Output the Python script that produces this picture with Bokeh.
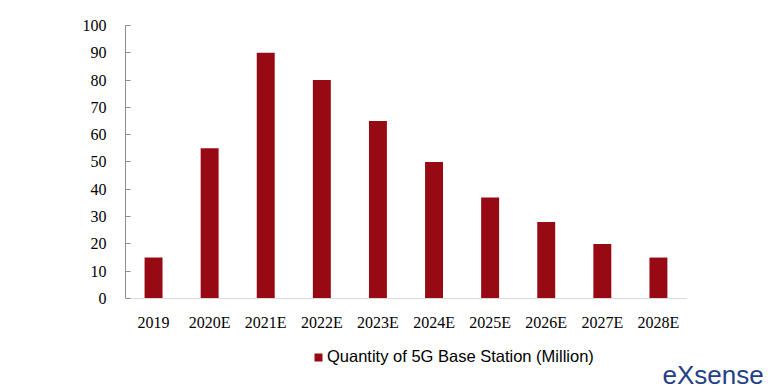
from bokeh.plotting import figure
from bokeh.models import Range1d, Legend, LegendItem, Label, SingleIntervalTicker, FixedTicker
from bokeh.embed import file_html
from bokeh.resources import INLINE

years = ["2019", "2020E", "2021E", "2022E", "2023E", "2024E", "2025E", "2026E", "2027E", "2028E"]
stations = [15, 55, 90, 80, 65, 50, 37, 28, 20, 15]
series_name = "Quantity of 5G Base Station (Million)"

xs = [i + 0.5 for i in range(len(years))]

p = figure(width=780, height=390, x_range=Range1d(0, 11.676),
           y_range=Range1d(-33.7, 100), output_backend="svg", toolbar_location=None,
           min_border_left=125, min_border_right=0, min_border_top=25, min_border_bottom=0)
p.outline_line_color = None
p.xgrid.grid_line_color = None
p.ygrid.grid_line_color = None

r = p.vbar(x=xs, top=stations, width=0.32, fill_color="#970A14", line_color=None)

serif = "Liberation Serif"
p.yaxis.ticker = SingleIntervalTicker(interval=10)
p.yaxis.bounds = (0, 100)
p.yaxis.axis_line_color = "#8c8c8c"
p.yaxis.major_tick_line_color = "#8c8c8c"
p.yaxis.major_tick_in = 5
p.yaxis.major_tick_out = 0
p.yaxis.minor_tick_line_color = None
p.yaxis.major_label_text_font = serif
p.yaxis.major_label_text_font_size = "16px"
p.yaxis.major_label_text_color = "#000000"
p.yaxis.major_label_standoff = 15

p.xaxis.fixed_location = 0
p.xaxis.bounds = (0, 10)
p.xaxis.ticker = FixedTicker(ticks=xs)
p.xaxis.major_label_overrides = {x: y for x, y in zip(xs, years)}
p.xaxis.axis_line_color = "#d9d9d9"
p.xaxis.major_tick_line_color = None
p.xaxis.minor_tick_line_color = None
p.xaxis.major_label_text_font = serif
p.xaxis.major_label_text_font_size = "16px"
p.xaxis.major_label_text_color = "#000000"
p.xaxis.major_label_standoff = 10

legend = Legend(items=[LegendItem(label=series_name, renderers=[r])], location=(188, 24),
                glyph_width=10, glyph_height=10, label_standoff=4, padding=0, margin=0,
                border_line_alpha=0, background_fill_alpha=0,
                label_text_font="Liberation Sans", label_text_font_size="16.5px",
                label_text_color="#000000")
p.add_layout(legend, "center")

logo = Label(x=9.572, y=-27.84, text="eXsense", text_font="Liberation Sans",
             text_font_size="26px", text_color="#233F87",
             text_baseline="alphabetic")
p.add_layout(logo)

open("out.html", "w").write(file_html(p, INLINE))
